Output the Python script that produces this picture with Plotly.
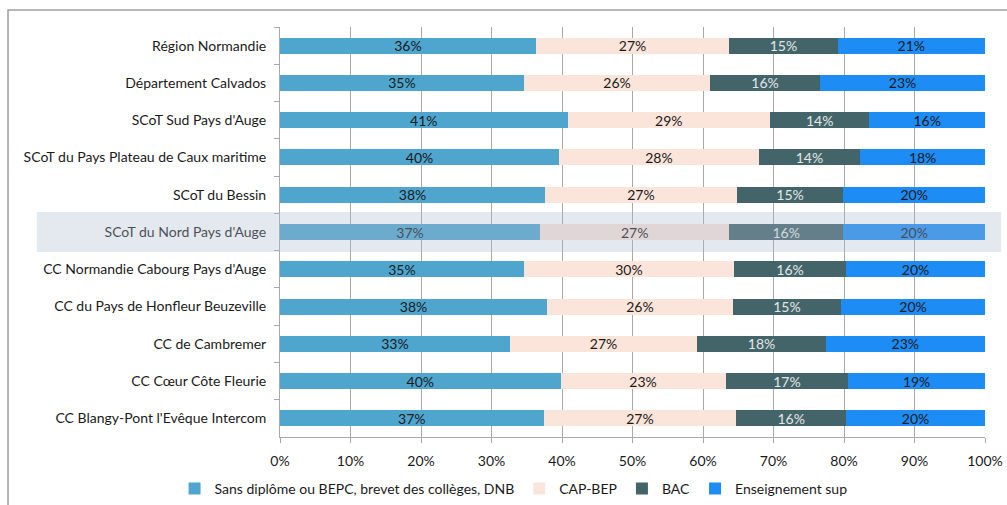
import plotly.graph_objects as go

# Territories, listed top to bottom
territoires = [
    "Région Normandie",
    "Département Calvados",
    "SCoT Sud Pays d'Auge",
    "SCoT du Pays Plateau de Caux maritime",
    "SCoT du Bessin",
    "SCoT du Nord Pays d'Auge",
    "CC Normandie Cabourg Pays d'Auge",
    "CC du Pays de Honfleur Beuzeville",
    "CC de Cambremer",
    "CC Cœur Côte Fleurie",
    "CC Blangy-Pont l'Evêque Intercom",
]

# Share of population by highest diploma (%)
sans_diplome = [36.3, 34.6, 40.8, 39.6, 37.6, 36.9, 34.6, 37.9, 32.6, 39.8, 37.4]
cap_bep = [27.4, 26.4, 28.7, 28.3, 27.2, 26.8, 29.8, 26.3, 26.6, 23.4, 27.3]
bac = [15.4, 15.6, 14.1, 14.4, 15.1, 16.2, 15.9, 15.4, 18.2, 17.4, 15.6]
ens_sup = [20.9, 23.4, 16.4, 17.7, 20.1, 20.1, 19.7, 20.4, 22.6, 19.4, 19.7]

series_names = [
    "Sans diplôme ou BEPC, brevet des collèges, DNB",
    "CAP-BEP",
    "BAC",
    "Enseignement sup",
]
x_ticks = [0, 10, 20, 30, 40, 50, 60, 70, 80, 90, 100]
x_tick_labels = ["0%", "10%", "20%", "30%", "40%", "50%", "60%", "70%", "80%", "90%", "100%"]
highlighted = "SCoT du Nord Pays d'Auge"

FONT = "Lato"
colors = ["#4ea6cf", "#fbe5da", "#436569", "#1e8cf5"]
text_colors = ["#1a1a1a", "#1a1a1a", "#e6e6e6", "#1a1a1a"]

fig = go.Figure()
for name, vals, col, tcol in zip(series_names, [sans_diplome, cap_bep, bac, ens_sup],
                                 colors, text_colors):
    fig.add_trace(go.Bar(
        y=territoires, x=vals, orientation="h", name=name,
        marker=dict(color=col, line=dict(width=0)),
        width=0.43,
        texttemplate="%{x:.0f}%", textposition="inside",
        insidetextanchor="middle", textangle=0, constraintext="none",
        textfont=dict(family=FONT, size=14, color=tcol),
        hoverinfo="skip",
    ))

grid = "#a9a9a9"
fig.update_layout(
    barmode="stack",
    width=1007, height=505,
    margin=dict(l=280, r=22, t=27, b=68, autoexpand=False),
    paper_bgcolor="white", plot_bgcolor="white",
    font=dict(family=FONT, size=14, color="#1a1a1a"),
    xaxis=dict(
        range=[0, 100], tickvals=x_ticks, ticktext=x_tick_labels,
        showgrid=True, gridcolor=grid, gridwidth=1,
        showline=True, linecolor=grid, linewidth=1,
        ticks="outside", ticklen=5, tickcolor=grid, automargin=False,
        zeroline=False, tickfont=dict(size=14), ticklabelstandoff=6,
    ),
    yaxis=dict(
        autorange="reversed", automargin=False,
        showline=True, linecolor=grid, linewidth=1,
        ticks="outside", tickson="boundaries", ticklen=5, tickcolor=grid,
        tickfont=dict(size=14), ticklabelstandoff=10,
    ),
    legend=dict(
        orientation="h", xref="container", yref="container",
        x=0.51, xanchor="center", y=0.032, yanchor="middle",
        font=dict(size=14), traceorder="normal", itemwidth=30,
    ),
    showlegend=True,
)

# Highlight band over the selected territory
idx = territoires.index(highlighted)
fig.add_shape(
    type="rect", xref="paper", yref="y",
    x0=-0.345, x1=1.023, y0=idx - 0.535, y1=idx + 0.535,
    fillcolor="rgba(171,183,205,0.32)", line=dict(width=0), layer="above",
)

# Outer frame (top and left edges)
fig.add_shape(
    type="path", xref="paper", yref="paper",
    path="M -0.3858 -0.2 L -0.3858 1.0415 L 1.05 1.0415",
    line=dict(color="#a0a0a0", width=1.5), layer="above",
)

fig.write_html("out.html")
